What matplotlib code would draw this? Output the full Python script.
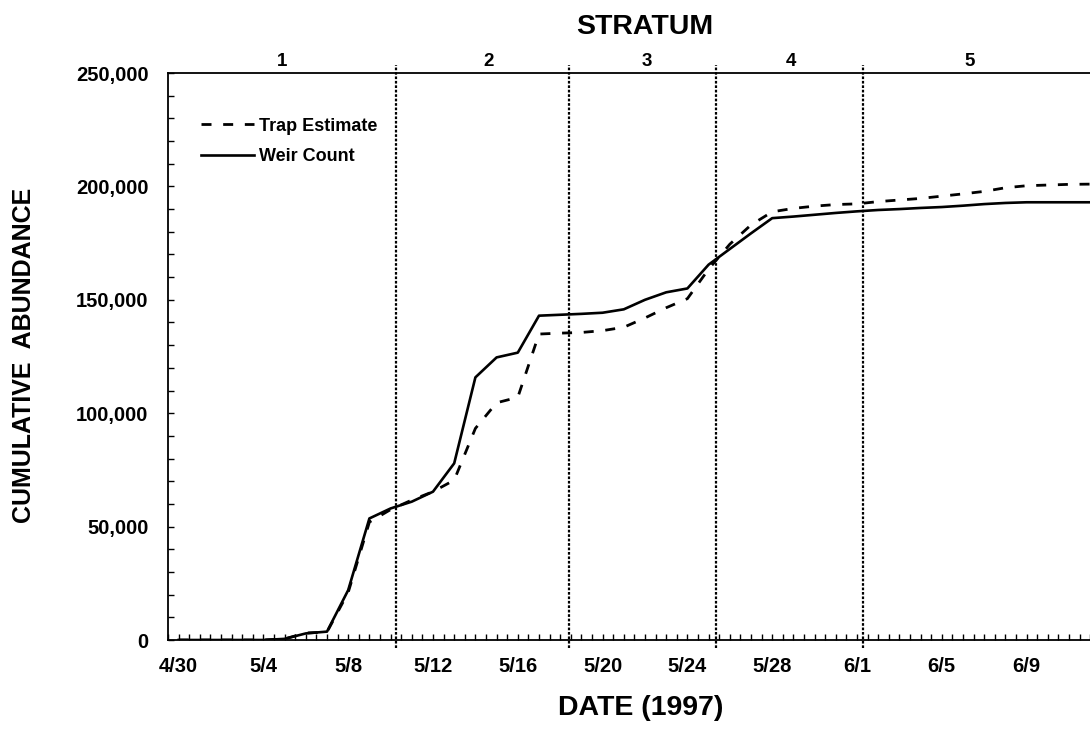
import matplotlib
matplotlib.use("Agg")
import matplotlib.pyplot as plt
from matplotlib.ticker import MultipleLocator, FuncFormatter

plt.rcParams['font.family'] = ['Liberation Sans', 'DejaVu Sans']
plt.rcParams['font.weight'] = 'bold'

# Day index 0 = 4/30/1997
days = list(range(0, 44))
weir_count = [0, 0, 0, 0, 0, 500, 2900, 3700, 22000, 53600,
              58000, 61000, 65400, 77900, 115800, 124600, 126700, 143000, 143400, 143800,
              144300, 145800, 150000, 153300, 155000, 165500, 172400, 179300, 186000, 186700,
              187500, 188300, 189000, 189600, 190000, 190500, 190900, 191500, 192200, 192700,
              193000, 193000, 193000, 193000]
trap_estimate = [0, 0, 0, 0, 0, 500, 3100, 3500, 21000, 52000,
                 57500, 61700, 65400, 70500, 93300, 104600, 107000, 134900, 135300, 135600,
                 136400, 137900, 142000, 146500, 150500, 163500, 174500, 183000, 188800, 190300,
                 191300, 192000, 192300, 193300, 194000, 194700, 195700, 196700, 197800, 199400,
                 200300, 200600, 200900, 201000]

tick_days = [0, 4, 8, 12, 16, 20, 24, 28, 32, 36, 40]
tick_labels = ['4/30', '5/4', '5/8', '5/12', '5/16', '5/20', '5/24', '5/28', '6/1', '6/5', '6/9']

strata_bounds = [10.25, 18.4, 25.33, 32.3]
strata_names = ['1', '2', '3', '4', '5']
strata_label_pos = [4.9, 14.6, 22.1, 28.9, 37.3]

W, H = 1090, 750
fig = plt.figure(figsize=(W / 100, H / 100), dpi=100)
ax = fig.add_axes([168 / W, 110 / H, 954 / W, 567 / H])

ax.plot(days, trap_estimate, color='black', lw=2.0, dashes=(3.6, 4.2), label='Trap Estimate')
ax.plot(days, weir_count, color='black', lw=1.9, label='Weir Count')

ax.set_xlim(-0.5, 44.5)
ax.set_ylim(0, 250000)

for b in strata_bounds:
    ax.plot([b, b], [-3500, 253500], color='black', lw=1.6, ls=(0, (1.2, 0.8)), clip_on=False, zorder=1)

for name, pos in zip(strata_names, strata_label_pos):
    ax.text(pos, 251500, name, ha='center', va='bottom', fontsize=13.5, fontweight='bold')

ax.set_xticks(tick_days)
ax.set_xticklabels(tick_labels)
ax.xaxis.set_minor_locator(MultipleLocator(0.5))
ax.yaxis.set_major_locator(MultipleLocator(50000))
ax.yaxis.set_minor_locator(MultipleLocator(10000))
ax.yaxis.set_major_formatter(FuncFormatter(lambda v, p: f'{int(v):,}'))

ax.tick_params(axis='both', which='both', direction='in', width=1.0, length=4.5, labelsize=14.5)
ax.tick_params(axis='x', which='major', pad=12)
ax.tick_params(axis='y', which='major', pad=14)
for lab in ax.get_xticklabels() + ax.get_yticklabels():
    lab.set_fontweight('bold')

ax.spines['right'].set_visible(False)
for s in ['left', 'bottom', 'top']:
    ax.spines[s].set_linewidth(1.3)

leg = ax.legend(loc='upper left', bbox_to_anchor=(0.018, 0.95), frameon=False,
                prop={'weight': 'bold', 'size': 13}, handlelength=2.9, handletextpad=0.3,
                labelspacing=0.75)

fig.text(645 / W, 1 - 27 / H, 'STRATUM', ha='center', va='center', fontsize=20.5, fontweight='bold')
fig.text(641 / W, 1 - 708 / H, 'DATE (1997)', ha='center', va='center', fontsize=20.5, fontweight='bold')
fig.text(24 / W, 1 - 355 / H, 'CUMULATIVE  ABUNDANCE', ha='center', va='center', rotation=90,
         fontsize=18, fontweight='bold')

fig.savefig('out.png', dpi=100)
